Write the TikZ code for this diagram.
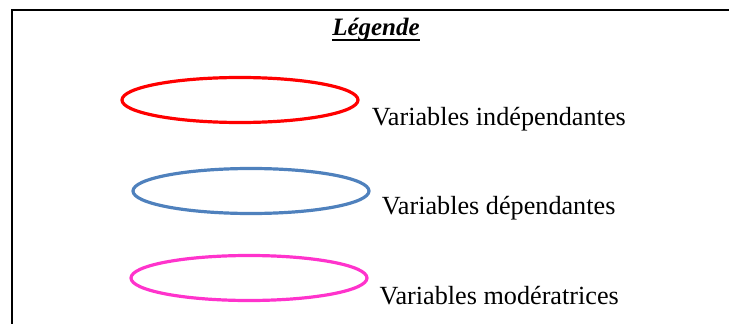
\documentclass[tikz,border=0pt]{standalone}
\usepackage{fontspec}
\setmainfont{Liberation Serif}
\usepackage{xcolor}
\usetikzlibrary{shapes.geometric}
\definecolor{rouge}{rgb}{1.0, 0.0, 0.0}
\definecolor{bleu}{RGB}{79, 129, 189}
\definecolor{rose}{RGB}{255, 51, 204}

\begin{document}
\begin{tikzpicture}[x=1pt, y=-1pt,
    ovale/.style={ellipse, draw, line width=3.2pt, minimum width=236pt, minimum height=45pt, inner sep=0pt},
    texte/.style={anchor=base west, inner sep=0pt, font=\fontsize{26.2}{30}\selectfont}]
    \useasboundingbox (0,0) rectangle (729,324);

    % Cadre de la legende
    \draw[line width=2.5pt] (12,324) -- (12,10) -- (729,10);

    % Titre souligne
    \node[anchor=base, inner sep=0pt, font=\fontsize{25}{28}\selectfont\bfseries\itshape] (titre) at (376,35.7) {Légende};
    \draw[line width=2pt] ([yshift=-4pt]titre.base west) -- ([yshift=-4pt]titre.base east);

    % Ovales
    \node[ovale, draw=rouge] (vi) at (240,100) {};
    \node[ovale, draw=bleu] (vd) at (251,191) {};
    \node[ovale, draw=rose] (vm) at (249,278) {};

    % Etiquettes
    \node[texte] (tvi) at (371.7,125) {Variables indépendantes};
    \node[texte] (tvd) at (381.7,214.3) {Variables dépendantes};
    \node[texte] (tvm) at (379.3,304.3) {Variables modératrices};
\end{tikzpicture}
\end{document}
